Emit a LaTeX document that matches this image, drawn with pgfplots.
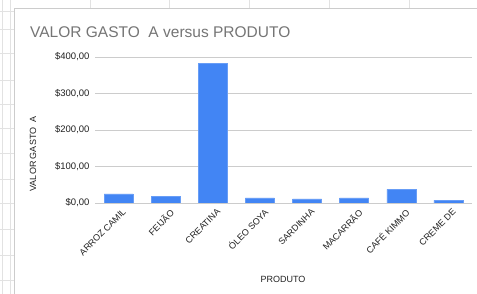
\documentclass[border=0pt]{standalone}
\usepackage{pgfplots}
\pgfplotsset{compat=1.18}
\usepackage{fontspec}
\setmainfont{Liberation Sans}
\definecolor{barblue}{HTML}{4285F4}
\definecolor{titlegray}{HTML}{757575}
\definecolor{gridgray}{HTML}{CCCCCC}
\definecolor{sheet}{HTML}{E2E2E2}
\definecolor{txt}{HTML}{222222}
\begin{document}
\begin{tikzpicture}
\useasboundingbox (0,0) rectangle (477pt,294pt);
\fill[white] (0,0) rectangle (477pt,294pt);
% spreadsheet background lines
\draw[sheet] (2pt,0) -- (2pt,294pt);
\draw[sheet] (10pt,0) -- (10pt,294pt);
\foreach \yy in {14,39,65,91,115,141,166,190,214,241,265,283} {\draw[sheet] (0pt,\yy pt) -- (14pt,\yy pt);}
\foreach \xx in {90,169,249,329,409} {\draw[sheet] (\xx pt,286pt) -- (\xx pt,294pt);}
\draw[gray!40] (14.5pt,0) -- (14.5pt,286pt) -- (477pt,286pt);
\node[anchor=base west, text=titlegray, inner sep=0pt, font=\fontsize{15.5}{17}\selectfont] at (30pt,256pt) {VALOR GASTO\ \ A versus PRODUTO};
\node[rotate=90, text=txt, font=\fontsize{9}{10}\selectfont] at (33pt,140pt) {VALOR GASTO\ \ A};
\node[text=txt, font=\fontsize{9}{10}\selectfont] at (283pt,15pt) {PRODUTO};
\begin{axis}[
  at={(95pt,91pt)}, anchor=south west,
  scale only axis, width=377pt, height=146pt,
  xmin=-0.5, xmax=7.5, ymin=0, ymax=400,
  axis line style={draw=none},
  ytick={0,100,200,300,400},
  yticklabels={\$0{,}00,\$100{,}00,\$200{,}00,\$300{,}00,\$400{,}00},
  yticklabel style={text=txt, font=\fontsize{9.5}{10}\selectfont, xshift=-2pt},
  ymajorgrids, grid style={gridgray, line width=0.7pt},
  xtick={0,1,2,3,4,5,6,7},
  xticklabels={ARROZ CAMIL,FEIJÃO,CREATINA,ÓLEO SOYA,SARDINHA,MACARRÃO,CAFÉ KIMMO,CREME DE},
  xticklabel style={rotate=45, anchor=north east, text=txt, font=\fontsize{9}{10}\selectfont, inner sep=1pt, yshift=-5pt},
  major tick length=0pt,
  tick style={draw=none},
  ybar, bar width=29pt,
]
\addplot[fill=barblue, draw=barblue!80!white, line width=0.5pt] coordinates {
(0,24.7) (1,19) (2,382) (3,13.7) (4,11) (5,13.7) (6,37.5) (7,7.4)};
\draw[black!80, line width=0.8pt] (axis cs:-0.5,0) -- (axis cs:7.5,0);
\end{axis}
\end{tikzpicture}
\end{document}
